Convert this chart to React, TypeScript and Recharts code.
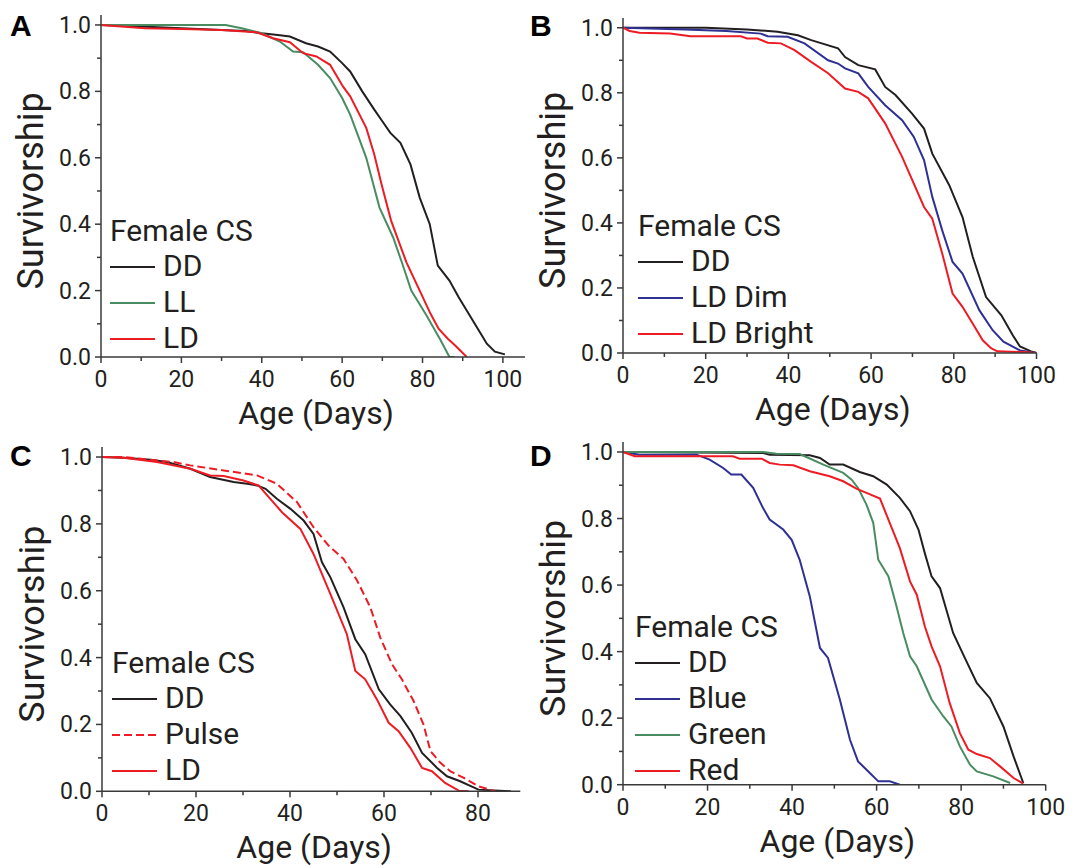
import { LineChart, Line, XAxis, YAxis, Legend } from 'recharts'

type Pt = [number, number]

// Panel A
const A_DD: Pt[] = [[0, 1], [10, 0.995], [20, 0.99], [30, 0.985], [36, 0.982], [40, 0.975], [44, 0.97], [47, 0.965], [51, 0.945], [54, 0.935], [57, 0.92], [60, 0.885], [62, 0.86], [65, 0.8], [68, 0.745], [70, 0.71], [72, 0.675], [74.5, 0.645], [77, 0.58], [79.3, 0.48], [81.8, 0.4], [83.8, 0.275], [86.7, 0.23], [89, 0.18], [91, 0.14], [93, 0.1], [95, 0.06], [96, 0.04], [98, 0.016], [100.5, 0.008]]
const A_LL: Pt[] = [[0, 1], [31, 1], [35, 0.99], [40, 0.975], [44.5, 0.95], [47.8, 0.92], [50.3, 0.918], [54, 0.88], [57, 0.84], [60, 0.78], [62, 0.73], [64, 0.665], [66, 0.6], [69.3, 0.45], [72.7, 0.36], [75, 0.28], [77.2, 0.2], [81, 0.125], [84.3, 0.055], [86.7, 0], [88, 0]]
const A_LD: Pt[] = [[0, 1], [5, 0.995], [11, 0.99], [20, 0.988], [30, 0.985], [38.7, 0.978], [42.8, 0.96], [47, 0.948], [50.3, 0.915], [53.6, 0.905], [57, 0.88], [60.2, 0.815], [62, 0.785], [66, 0.69], [68, 0.61], [69.8, 0.52], [72.2, 0.41], [76, 0.285], [79.3, 0.2], [82, 0.13], [84, 0.085], [86.3, 0.055], [88, 0.036], [91, 0]]

// Panel B
const B_DD: Pt[] = [[0, 1], [20, 1], [30, 0.995], [37.4, 0.988], [42.3, 0.977], [45.5, 0.962], [52, 0.937], [53.7, 0.91], [56.9, 0.885], [61, 0.872], [63.4, 0.818], [65.9, 0.793], [69.9, 0.736], [72.8, 0.69], [74.8, 0.613], [78.9, 0.516], [82.1, 0.418], [84.6, 0.295], [87.8, 0.172], [91.5, 0.116], [94.3, 0.054], [96, 0.02], [98.7, 0.005], [100, 0]]
const B_DIM: Pt[] = [[0, 1], [15, 0.995], [25, 0.99], [33.3, 0.982], [35, 0.974], [39.8, 0.972], [43.9, 0.952], [49.6, 0.9], [52, 0.89], [53.7, 0.875], [56.9, 0.86], [59.3, 0.818], [63.4, 0.762], [67.5, 0.716], [70.3, 0.665], [72.8, 0.593], [74.8, 0.48], [77.2, 0.377], [79.7, 0.28], [82.1, 0.244], [86.2, 0.131], [89.4, 0.07], [92, 0.035], [96, 0.008], [100, 0]]
const B_BRIGHT: Pt[] = [[0, 1], [1.6, 0.99], [4, 0.985], [11.4, 0.982], [16.3, 0.974], [28.5, 0.974], [30, 0.967], [32.5, 0.967], [35, 0.954], [38.2, 0.952], [41.5, 0.931], [45.5, 0.895], [49.6, 0.86], [53.7, 0.813], [56.9, 0.803], [59.3, 0.783], [63.4, 0.706], [67.5, 0.603], [72.8, 0.449], [74.8, 0.413], [77.2, 0.306], [79.7, 0.183], [82.1, 0.142], [84.6, 0.09], [87, 0.039], [89, 0.015], [90.5, 0.005], [97, 0.003], [100, 0]]

// Panel C
const C_DD: Pt[] = [[0, 1], [4.6, 0.998], [10.3, 0.992], [13.8, 0.985], [18.8, 0.965], [23, 0.94], [28, 0.925], [30.9, 0.92], [33, 0.915], [34.8, 0.905], [37.2, 0.875], [40.1, 0.845], [42.9, 0.81], [45, 0.77], [46.8, 0.685], [48.6, 0.64], [51.4, 0.55], [53.9, 0.455], [56, 0.41], [58.9, 0.305], [61.3, 0.26], [63.5, 0.225], [65.9, 0.175], [68.1, 0.115], [71.3, 0.07], [73.4, 0.045], [76.2, 0.03], [80.1, 0.005], [87, 0]]
const C_PULSE: Pt[] = [[0, 1], [4.6, 1], [15.2, 0.985], [18.8, 0.975], [25.9, 0.96], [33, 0.945], [37.2, 0.92], [41.5, 0.865], [45, 0.79], [48.2, 0.735], [51.4, 0.695], [54.3, 0.63], [57.1, 0.55], [59.2, 0.46], [61.7, 0.38], [63.8, 0.335], [66.3, 0.27], [68.4, 0.2], [69.9, 0.12], [72, 0.085], [74.1, 0.06], [77, 0.04], [80.1, 0.015], [83.7, 0]]
const C_LD: Pt[] = [[0, 1], [4.6, 0.998], [11.7, 0.985], [18.8, 0.965], [23, 0.945], [25.9, 0.943], [30.1, 0.93], [33.3, 0.915], [35.8, 0.875], [38.3, 0.835], [42.2, 0.785], [45, 0.71], [48.6, 0.59], [52.1, 0.47], [53.9, 0.36], [56, 0.335], [58.5, 0.275], [61, 0.205], [63.1, 0.18], [65.6, 0.13], [68.1, 0.07], [70.2, 0.06], [73, 0.025], [75.9, 0.002], [78, 0]]

// Panel D
const D_DD: Pt[] = [[0, 1], [33.2, 0.997], [34.7, 0.992], [44.2, 0.99], [46.6, 0.982], [48.9, 0.962], [52.1, 0.962], [56, 0.94], [59.2, 0.927], [62.4, 0.902], [65.5, 0.862], [67.9, 0.822], [69.9, 0.767], [71.4, 0.696], [73, 0.626], [75, 0.591], [78.1, 0.456], [80.5, 0.391], [83.7, 0.306], [86.8, 0.26], [90, 0.175], [92.4, 0.085], [94.7, 0.005]]
const D_BLUE: Pt[] = [[0, 1], [3.9, 0.992], [17.4, 0.992], [20.5, 0.977], [23.7, 0.952], [25.6, 0.932], [28, 0.932], [30.8, 0.892], [33.1, 0.832], [34.7, 0.797], [37.9, 0.767], [39.9, 0.736], [41.8, 0.676], [44.2, 0.566], [46.6, 0.411], [48.5, 0.381], [51.3, 0.256], [53.7, 0.135], [55.6, 0.07], [58.4, 0.035], [60.4, 0.01], [63.1, 0.01], [65.5, 0]]
const D_GREEN: Pt[] = [[0, 1], [33.2, 1], [36.3, 0.995], [41.8, 0.994], [43.4, 0.985], [47.4, 0.962], [52.1, 0.937], [54.1, 0.917], [55.6, 0.892], [57.6, 0.842], [59.2, 0.787], [60.4, 0.676], [62.8, 0.626], [64.7, 0.536], [66.3, 0.456], [67.9, 0.386], [69.5, 0.356], [73, 0.256], [75.8, 0.205], [77.7, 0.175], [79.7, 0.115], [82.1, 0.06], [83.7, 0.04], [87.6, 0.025], [91.6, 0.005]]
const D_RED: Pt[] = [[0, 1], [2.8, 0.987], [26, 0.987], [27.6, 0.98], [32.8, 0.98], [34.7, 0.967], [37.1, 0.962], [40.3, 0.96], [44.2, 0.942], [48.9, 0.927], [52.1, 0.912], [55.2, 0.89], [57.6, 0.877], [60.8, 0.86], [63.1, 0.787], [65.5, 0.711], [67.9, 0.611], [69.5, 0.571], [71.4, 0.476], [73, 0.416], [75, 0.356], [77.3, 0.245], [79.7, 0.155], [81.7, 0.105], [83.7, 0.092], [86.8, 0.08], [89.2, 0.055], [92.4, 0.02], [94.7, 0.003]]

const Y_TICKS = [0, 0.1, 0.2, 0.3, 0.4, 0.5, 0.6, 0.7, 0.8, 0.9, 1.0]
const X_TICKS_100 = [0, 10, 20, 30, 40, 50, 60, 70, 80, 90, 100]
const X_TICKS_80 = [0, 10, 20, 30, 40, 50, 60, 70, 80]

const BLACK = '#231f20'
const GREEN = '#4a8c62'
const RED = '#ed1c24'
const BLUE = '#2e3192'
const AXIS = '#3a3a3a'
const FONT = 'Roboto, "Open Sans", sans-serif'

const Y_MAX = 1.03
const YW = 100
const MT = 10
const MR = 20
const XH = 80

interface Series {
  name: string
  color: string
  dash?: string
  pts: Pt[]
}

interface PanelCfg {
  letter: string
  letterX: number
  letterY: number
  left: number
  right: number
  top: number
  bottom: number
  xMax: number
  xTicks: number[]
  legendX: number
  legendY: number
  series: Series[]
}

const panels: PanelCfg[] = [
  {
    letter: 'A', letterX: 10, letterY: 11,
    left: 101, right: 525, top: 15, bottom: 357, xMax: 105.5, xTicks: X_TICKS_100,
    legendX: 110, legendY: 213,
    series: [
      { name: 'DD', color: BLACK, pts: A_DD },
      { name: 'LL', color: GREEN, pts: A_LL },
      { name: 'LD', color: RED, pts: A_LD },
    ],
  },
  {
    letter: 'B', letterX: 530, letterY: 11,
    left: 622.5, right: 1036, top: 18, bottom: 353, xMax: 100, xTicks: X_TICKS_100,
    legendX: 638, legendY: 208,
    series: [
      { name: 'DD', color: BLACK, pts: B_DD },
      { name: 'LD Dim', color: BLUE, pts: B_DIM },
      { name: 'LD Bright', color: RED, pts: B_BRIGHT },
    ],
  },
  {
    letter: 'C', letterX: 10, letterY: 441,
    left: 101.7, right: 520, top: 446.7, bottom: 791, xMax: 89, xTicks: X_TICKS_80,
    legendX: 112, legendY: 645,
    series: [
      { name: 'DD', color: BLACK, pts: C_DD },
      { name: 'Pulse', color: RED, dash: '8 4', pts: C_PULSE },
      { name: 'LD', color: RED, pts: C_LD },
    ],
  },
  {
    letter: 'D', letterX: 530, letterY: 441,
    left: 623.3, right: 1046, top: 442.3, bottom: 785, xMax: 100, xTicks: X_TICKS_100,
    legendX: 635, legendY: 609,
    series: [
      { name: 'DD', color: BLACK, pts: D_DD },
      { name: 'Blue', color: BLUE, pts: D_BLUE },
      { name: 'Green', color: GREEN, pts: D_GREEN },
      { name: 'Red', color: RED, pts: D_RED },
    ],
  },
]

const rows = (pts: Pt[]) => pts.map(([d, s]) => ({ d, s }))

const XTick = (props: any) => {
  const { x, y, payload } = props
  const v = payload.value
  const major = v % 20 === 0
  return (
    <g>
      <line x1={x} x2={x} y1={y} y2={y + (major ? 6 : 4)} stroke={AXIS} strokeWidth={1.5} />
      {major && (
        <text x={x} y={y + 30} textAnchor="middle" fontSize={23} fill={BLACK} fontFamily={FONT}>
          {v}
        </text>
      )}
    </g>
  )
}

const YTick = (props: any) => {
  const { x, y, payload } = props
  const v = payload.value
  const major = Math.round(v * 10) % 2 === 0
  return (
    <g>
      <line x1={x} x2={x - (major ? 6 : 4)} y1={y} y2={y} stroke={AXIS} strokeWidth={1.5} />
      {major && (
        <text x={x - 10} y={y + 8} textAnchor="end" fontSize={23} fill={BLACK} fontFamily={FONT}>
          {v.toFixed(1)}
        </text>
      )}
    </g>
  )
}

const renderLegend = (series: Series[]) => () => (
  <div style={{ fontFamily: FONT, color: BLACK, fontSize: 30 }}>
    <div style={{ lineHeight: '35px', height: 35, whiteSpace: 'nowrap' }}>Female CS</div>
    {series.map((s) => (
      <div key={s.name} style={{ display: 'flex', alignItems: 'center', height: 36, lineHeight: '36px', whiteSpace: 'nowrap' }}>
        <svg width={53} height={36} style={{ display: 'block', flex: 'none' }}>
          <line x1={0} x2={45} y1={19} y2={19} stroke={s.color} strokeWidth={2} strokeDasharray={s.dash} />
        </svg>
        <span>{s.name}</span>
      </div>
    ))}
  </div>
)

function Panel({ p }: { p: PanelCfg }) {
  const w = p.right - p.left
  const h = p.bottom - p.top
  const originX = p.left - YW
  const originY = p.top - MT
  const midY = MT + h - (0.5 * h) / Y_MAX

  return (
    <>
      <div
        style={{
          position: 'absolute', left: p.letterX, top: p.letterY,
          fontFamily: '"Liberation Sans", Arial, sans-serif', fontWeight: 'bold', fontSize: 30, lineHeight: '30px', color: '#000',
        }}
      >
        {p.letter}
      </div>
      <div style={{ position: 'absolute', left: originX, top: originY }}>
        <LineChart width={YW + w + MR} height={MT + h + XH} margin={{ top: MT, right: MR, bottom: 0, left: 0 }}>
          <XAxis
            type="number"
            dataKey="d"
            domain={[0, p.xMax]}
            ticks={p.xTicks}
            interval={0}
            allowDataOverflow
            tickSize={0}
            tickMargin={0}
            tickLine={false}
            axisLine={{ stroke: AXIS, strokeWidth: 1.5 }}
            tick={(tp: any) => <XTick {...tp} />}
            height={XH}
            label={{
              content: () => (
                <text x={YW + w / 2 + 3} y={MT + h + 67} textAnchor="middle" fontSize={32} fill={BLACK} fontFamily={FONT}>
                  Age (Days)
                </text>
              ),
            }}
          />
          <YAxis
            type="number"
            domain={[0, Y_MAX]}
            ticks={Y_TICKS}
            interval={0}
            allowDataOverflow
            tickSize={0}
            tickMargin={0}
            tickLine={false}
            axisLine={{ stroke: AXIS, strokeWidth: 1.5 }}
            tick={(tp: any) => <YTick {...tp} />}
            width={YW}
            label={{
              content: () => (
                <text
                  x={-midY}
                  y={YW - 58}
                  transform="rotate(-90)"
                  textAnchor="middle"
                  fontSize={36}
                  fill={BLACK}
                  fontFamily={FONT}
                >
                  Survivorship
                </text>
              ),
            }}
          />
          {p.series.map((s) => (
            <Line
              key={s.name}
              data={rows(s.pts)}
              dataKey="s"
              name={s.name}
              type="linear"
              stroke={s.color}
              strokeWidth={2}
              strokeDasharray={s.dash}
              dot={false}
              activeDot={false}
              isAnimationActive={false}
            />
          ))}
          <Legend
            layout="vertical"
            align="center"
            verticalAlign="middle"
            content={renderLegend(p.series)}
            wrapperStyle={{ left: p.legendX - originX, top: p.legendY - originY, width: 300, height: 'auto' }}
          />
        </LineChart>
      </div>
    </>
  )
}

export default function App() {
  return (
    <div style={{ position: 'absolute', left: 0, top: 0, width: 1072, height: 867, background: '#fff', overflow: 'hidden' }}>
      {panels.map((p) => (
        <Panel key={p.letter} p={p} />
      ))}
    </div>
  )
}
